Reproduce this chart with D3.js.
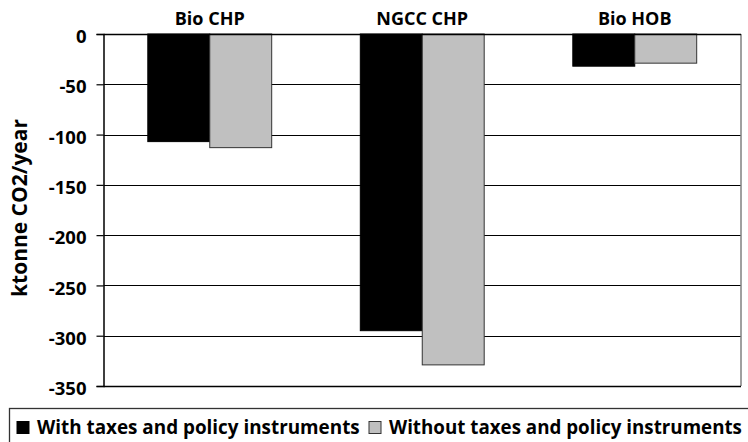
<!DOCTYPE html>
<html>
<head>
<meta charset="utf-8">
<script src="https://cdn.jsdelivr.net/npm/d3@7"></script>
<style>
  html, body { margin: 0; padding: 0; background: #fff; }
  svg { display: block; font-family: "Open Sans", sans-serif; font-weight: bold; }
</style>
</head>
<body>
<svg id="chart" width="748" height="442"></svg>
<script>
const categories = ["Bio CHP", "NGCC CHP", "Bio HOB"];
const seriesNames = ["With taxes and policy instruments", "Without taxes and policy instruments"];
const withTaxes = [-107, -295, -32];
const withoutTaxes = [-113, -329, -29];
const yTicks = [0, -50, -100, -150, -200, -250, -300, -350];
const colors = ["#000000", "#c0c0c0"];

const svg = d3.select("#chart");
const m = { left: 103.5, right: 741, top: 34, bottom: 386 };

// scale a text's font so its width matches a target width
function fit(sel, target) {
  sel.each(function () {
    const w = this.getComputedTextLength();
    const fs = parseFloat(this.getAttribute("font-size"));
    if (w > 0) this.setAttribute("font-size", (fs * target / w).toFixed(2));
  });
}

const x0 = d3.scaleBand().domain(categories).range([m.left, m.right])
  .paddingInner(0.417).paddingOuter(0.2085);
const x1 = d3.scaleBand().domain([0, 1]).range([0, x0.bandwidth()]);
const y = d3.scaleLinear().domain([-350, 0]).range([m.bottom, m.top]);

// gridlines
svg.append("g").selectAll("line").data(yTicks.filter(d => d !== 0 && d !== -350)).join("line")
  .attr("x1", m.left).attr("x2", m.right)
  .attr("y1", d => Math.round(y(d)) + 0.5).attr("y2", d => Math.round(y(d)) + 0.5)
  .attr("stroke", "#000").attr("stroke-width", 1.2);

// right border (gray)
svg.append("line").attr("x1", m.right).attr("x2", m.right)
  .attr("y1", m.top).attr("y2", m.bottom)
  .attr("stroke", "#808080").attr("stroke-width", 1.5);
// bottom border
svg.append("line").attr("x1", m.left).attr("x2", m.right)
  .attr("y1", Math.round(y(-350)) + 0.5).attr("y2", Math.round(y(-350)) + 0.5)
  .attr("stroke", "#000").attr("stroke-width", 1.5);

// bars
const data = categories.map((c, i) => ({ c, vals: [withTaxes[i], withoutTaxes[i]] }));
const g = svg.append("g").selectAll("g").data(data).join("g")
  .attr("transform", d => `translate(${x0(d.c)},0)`);
g.selectAll("rect").data(d => d.vals.map((v, k) => ({ v, k }))).join("rect")
  .attr("x", d => x1(d.k))
  .attr("width", x1.bandwidth())
  .attr("y", y(0))
  .attr("height", d => y(d.v) - y(0))
  .attr("fill", d => colors[d.k])
  .attr("stroke", d => d.k === 0 ? "#000" : "#333")
  .attr("stroke-width", 1);

// zero line (top)
svg.append("line").attr("x1", m.left).attr("x2", m.right)
  .attr("y1", y(0) + 0.5).attr("y2", y(0) + 0.5)
  .attr("stroke", "#000").attr("stroke-width", 1.3);

// y axis
const yAxis = svg.append("g").attr("transform", `translate(${m.left},0)`)
  .call(d3.axisLeft(y).tickValues(yTicks).tickSize(7).tickPadding(10).tickFormat(d3.format("d")));
yAxis.select(".domain").attr("stroke", "#000").attr("stroke-width", 1.5);
yAxis.selectAll(".tick line").attr("stroke", "#000").attr("stroke-width", 1.2);
yAxis.selectAll(".tick text").attr("font-size", 18.5).attr("font-family", "'Open Sans', sans-serif")
  .attr("font-weight", "bold").attr("fill", "#000").attr("dy", "0.47em")
  .text(d => d === 0 ? "0" : "-" + Math.abs(d));

// category labels at top
const cat = svg.append("g").selectAll("text").data(categories).join("text")
  .attr("x", d => x0(d) + x0.bandwidth() / 2)
  .attr("y", 25)
  .attr("text-anchor", "middle")
  .attr("font-size", 17)
  .text(d => d);
fit(cat.filter((d, i) => i === 0), 70);
const catFs = cat.filter((d, i) => i === 0).attr("font-size");
cat.attr("font-size", catFs);

// y title
const yt = svg.append("text")
  .attr("transform", `translate(27,${(m.top + m.bottom) / 2 - 2}) rotate(-90)`)
  .attr("text-anchor", "middle")
  .attr("font-size", 20)
  .text("ktonne CO2/year");
fit(yt, 178);

// legend
svg.append("rect").attr("x", 9.5).attr("y", 408.5).attr("width", 760).attr("height", 60)
  .attr("fill", "none").attr("stroke", "#333").attr("stroke-width", 1.3);
const legX = [17, 369];
const legW = [323, 353];
const leg = svg.append("g").selectAll("g").data(seriesNames).join("g")
  .attr("transform", (d, i) => `translate(${legX[i]},0)`);
leg.append("rect").attr("x", 0).attr("y", 421.5).attr("width", 12).attr("height", 12)
  .attr("fill", (d, i) => colors[i]).attr("stroke", (d, i) => i === 0 ? "#000" : "#333");
const lt = leg.append("text").attr("x", 20).attr("y", 434).attr("font-size", 17).text(d => d);
lt.each(function (d, i) { fit(d3.select(this), legW[i]); });
</script>
</body>
</html>
